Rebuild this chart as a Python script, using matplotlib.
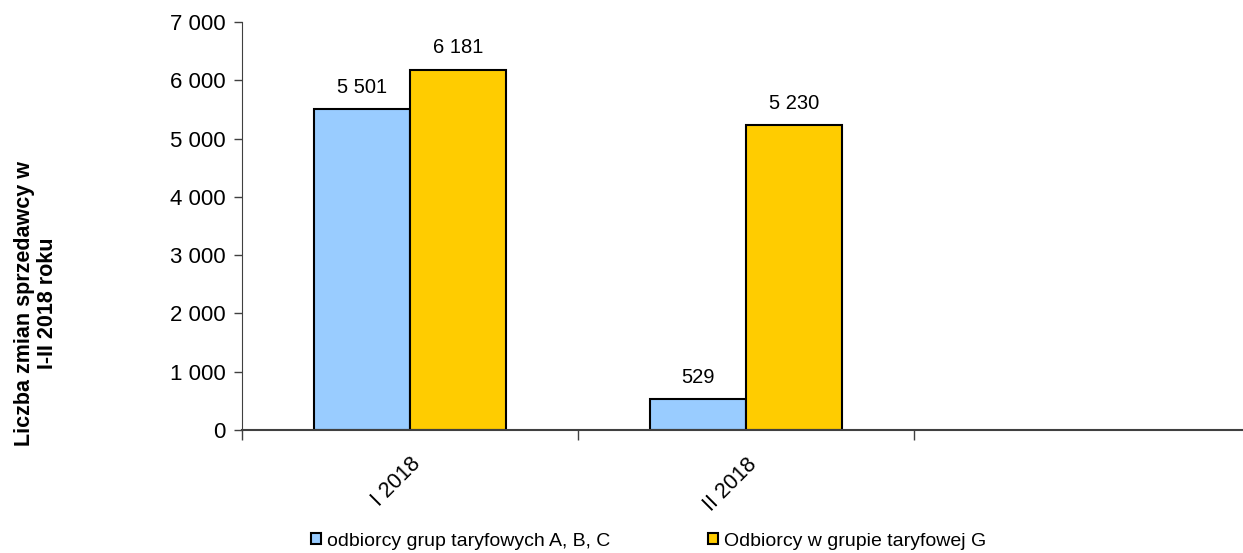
import numpy as np
import matplotlib
matplotlib.use("Agg")
import matplotlib.pyplot as plt
from matplotlib.patches import Patch

plt.rcParams["font.family"] = ["Liberation Sans", "DejaVu Sans"]

categories = ["I 2018", "II 2018"]
series_names = ["odbiorcy grup taryfowych A, B, C", "Odbiorcy w grupie taryfowej G"]
values_abc = [5501, 529]
values_g = [6181, 5230]
colors = ["#99CCFF", "#FFCC00"]
y_ticks = [0, 1000, 2000, 3000, 4000, 5000, 6000, 7000]


def fmt(v):
    return f"{v:,}".replace(",", " ")


fig = plt.figure(figsize=(12.43, 5.53), dpi=100)
ax = fig.add_axes([242 / 1243, 123 / 553, 1 - 242 / 1243, 408 / 553])

x = np.arange(len(categories))
w = 0.285
for off, vals, col in [(-w / 2, values_abc, colors[0]), (w / 2, values_g, colors[1])]:
    bars = ax.bar(x + off, vals, w, color=col, edgecolor="black", linewidth=1.5)
    for b, v in zip(bars, vals):
        ax.annotate(fmt(v), (b.get_x() + b.get_width() / 2, v),
                    xytext=(0, 9), textcoords="offset points",
                    ha="center", va="bottom", fontsize=14.5)

ax.set_xlim(-0.5, 2.48)
ax.set_ylim(0, 7000)
ax.set_yticks(y_ticks)
ax.set_yticklabels([fmt(t) for t in y_ticks], fontsize=16)
ax.tick_params(axis="y", length=6, width=1, color="#404040", pad=6)

ax.set_xticks(x)
ax.set_xticklabels(categories, rotation=45, ha="right", va="top",
                   rotation_mode="anchor", fontsize=15.5)
ax.tick_params(axis="x", which="major", length=0, pad=17)
ax.set_xticks([-0.5, 0.5, 1.5], minor=True)
ax.tick_params(axis="x", which="minor", length=7, width=1, color="#404040")

for s in ["top", "right"]:
    ax.spines[s].set_visible(False)
ax.spines["left"].set_color("#404040")
ax.spines["bottom"].set_color("#404040")
ax.spines["bottom"].set_linewidth(1.5)

fig.text(36 / 1243, 0.452, "Liczba zmian sprzedawcy w\nI-II 2018 roku",
         rotation=90, ha="center", va="center", fontsize=15.5,
         fontweight="bold", linespacing=1.1)

handles = [Patch(facecolor=c, edgecolor="black", linewidth=1.5) for c in colors]
fig.legend(handles, series_names, loc="center left",
           bbox_to_anchor=(303 / 1243, 12 / 553), ncol=2, frameon=False,
           fontsize=14, handlelength=0.55, handleheight=0.55,
           handletextpad=0.3, columnspacing=5.0, borderaxespad=0)

fig.savefig("out.png", dpi=100)
